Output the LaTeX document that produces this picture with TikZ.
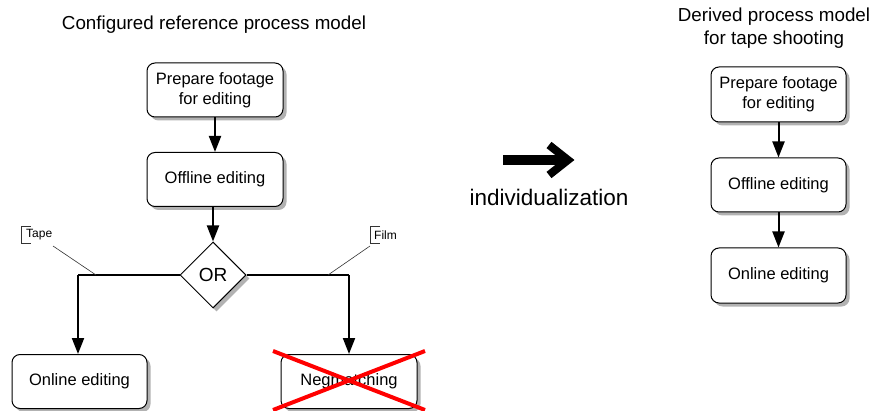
\documentclass[tikz,border=0pt]{standalone}
\usepackage{fontspec}
\setmainfont{Liberation Sans}
\usetikzlibrary{shapes.geometric,arrows.meta,shadows}
\begin{document}
\begin{tikzpicture}[x=1pt,y=-1pt,
  shad/.style={drop shadow={shadow xshift=3.5pt,shadow yshift=-3.5pt,fill=black!30,opacity=1}},
  box/.style={draw,rounded corners=8pt,line width=1pt,minimum width=136pt,minimum height=54pt,
    fill=white,align=center,inner sep=0pt,font=\fontsize{16.5}{20}\selectfont,shad},
  gate/.style={draw,diamond,aspect=1,minimum width=66pt,minimum height=66pt,inner sep=0pt,
    line width=1pt,fill=white,font=\fontsize{19}{22}\selectfont,shad},
  flow/.style={line width=2pt,-{Triangle[length=16pt,width=12pt]}},
  line/.style={line width=2pt},
  lead/.style={line width=0.6pt,black!80},
  title/.style={align=center,font=\fontsize{18.8}{23}\selectfont},
  tag/.style={font=\fontsize{12}{14}\selectfont,inner sep=0pt,anchor=west},
  cross/.style={red,line width=4pt}
]
\useasboundingbox (0,0) rectangle (874,411);

% left model
\node[title] (t1) at (214,25) {Configured reference process model};
\node[box] (p1) at (215,90) {Prepare footage\\for editing};
\node[box] (o1) at (215,179.5) {Offline editing};
\node[gate] (or) at (213,275) {OR};
\node[box,minimum width=135pt] (on1) at (79.5,381.5) {Online editing};
\node[box] (neg) at (349,381.5) {Negmatching};

\draw[flow] (p1) -- (o1);
\draw[flow] (o1.south -| or.north) -- (or.north);
\coordinate (lt) at (78,275);
\coordinate (rt) at (349,275);
\draw[line] (or.west) -- (lt);
\draw[flow] (lt) -- (on1.north -| lt);
\draw[line] (or.east) -- (rt);
\draw[flow] (rt) -- (neg.north);

% annotations
\coordinate (tb) at (53,246);
\coordinate (tl) at (96,275);
\draw[lead] (tb) -- (tl);
\draw[line width=0.8pt,black!80] (31,226) -- (21,226) -- (21,243) -- (31,243);
\node[tag] (tape) at (26,235) {Tape};
\coordinate (fb) at (370,246);
\coordinate (fl) at (328,275);
\draw[lead] (fb) -- (fl);
\draw[line width=0.8pt,black!80] (380,226) -- (370,226) -- (370,243) -- (380,243);
\node[tag] (film) at (374,235) {Film};

% red cross
\coordinate (x1) at (273,351);
\coordinate (x2) at (425,410);
\coordinate (x3) at (273,410);
\coordinate (x4) at (425,351);
\draw[cross] (x1) -- (x2);
\draw[cross] (x3) -- (x4);

% middle arrow
\coordinate (a0) at (503,160);
\coordinate (a1) at (566,160);
\draw[line width=10pt] (a0) -- (a1);
\draw[line width=8pt,miter limit=10] (549,145) -- (568,160) -- (549,175);
\node[font=\fontsize{22.5}{26}\selectfont] (ind) at (549,197) {individualization};

% right model
\node[title] (t2) at (774,28) {Derived process model\\for tape shooting};
\node[box,minimum width=135pt,minimum height=55pt] (p2) at (778.5,94.5) {Prepare footage\\for editing};
\node[box,minimum width=135pt,minimum height=54pt] (o2) at (778.5,185) {Offline editing};
\node[box,minimum width=135pt,minimum height=55pt] (on2) at (778.5,275.5) {Online editing};
\draw[flow] (p2) -- (o2);
\draw[flow] (o2) -- (on2);
\end{tikzpicture}
\end{document}
